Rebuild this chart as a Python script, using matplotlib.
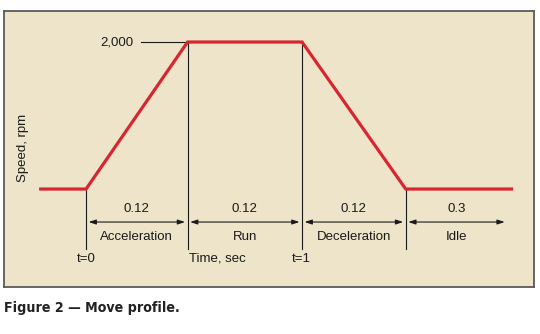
import matplotlib
matplotlib.use("Agg")
import matplotlib.pyplot as plt

# move profile: normalised time (t=0 start of accel, t=1 end of run) vs speed
t_points = [-0.21, 0.0, 0.47, 1.0, 1.48, 1.97]
speed_points = [0, 0, 2000, 2000, 0, 0]
top_speed = 2000

phases = ["Acceleration", "Run", "Deceleration", "Idle"]
durations = ["0.12", "0.12", "0.12", "0.3"]
phase_edges = [0.0, 0.47, 1.0, 1.48, 1.95]

RED, INK, PANEL, EDGE = "#d7262f", "#1a1a1a", "#ede4c9", "#5a5a5a"
plt.rcParams.update({"font.family": ["Liberation Sans", "DejaVu Sans"], "font.size": 9.5})

fig = plt.figure(figsize=(5.4, 3.34), dpi=100, facecolor="white")
ax = fig.add_axes([4 / 540, 47 / 334, 530 / 540, 276 / 334])
ax.set_xlim(-0.38, 2.074)
ax.set_ylim(-1333, 2422)
ax.set_facecolor(PANEL)
for s in ax.spines.values():
    s.set_color(EDGE)
    s.set_linewidth(1.3)
ax.set_xticks([])
ax.set_yticks([])

y_arrow, y_num, y_name, y_vbot, y_t = -449, -272, -653, -816, -952

# guide lines at the phase boundaries
for x, top in zip(phase_edges[:4], [0, top_speed, top_speed, 0]):
    ax.plot([x, x], [y_vbot, top], color=INK, lw=0.8, zorder=2)

# dimension arrows with durations and phase names
for i, (name, dur) in enumerate(zip(phases, durations)):
    a, b = phase_edges[i], phase_edges[i + 1]
    ax.annotate("", xy=(b - 0.012, y_arrow), xytext=(a + 0.012, y_arrow),
                arrowprops=dict(arrowstyle="<|-|>,head_length=0.45,head_width=0.15",
                                color=INK, lw=0.8, shrinkA=0, shrinkB=0))
    xm = (a + b) / 2
    ax.text(xm, y_num, dur, ha="center", va="center", color=INK)
    ax.text(xm, y_name, name, ha="center", va="center", color=INK)

ax.text(0.0, y_t, "t=0", ha="center", va="center", color=INK)
ax.text(0.475, y_t, "Time, sec", ha="left", va="center", color=INK)
ax.text(0.995, y_t, "t=1", ha="center", va="center", color=INK)

# top speed marker
ax.plot([0.255, 0.458], [top_speed, top_speed], color=INK, lw=0.8, zorder=2)
ax.text(0.218, top_speed, "2,000", ha="right", va="center", color=INK)

ax.text(-0.29, 560, "Speed, rpm", rotation=90, ha="center", va="center", color=INK)

ax.plot(t_points, speed_points, color=RED, lw=2.3, solid_joinstyle="miter", zorder=3)

fig.text(4 / 540, 1 - 308 / 334, "Figure 2 \u2014 Move profile.", ha="left", va="center",
         fontsize=10.2, fontweight="bold", fontstretch="condensed", color="#222222",
         family=["DejaVu Sans"])

fig.savefig("out.png", dpi=100, facecolor="white")
